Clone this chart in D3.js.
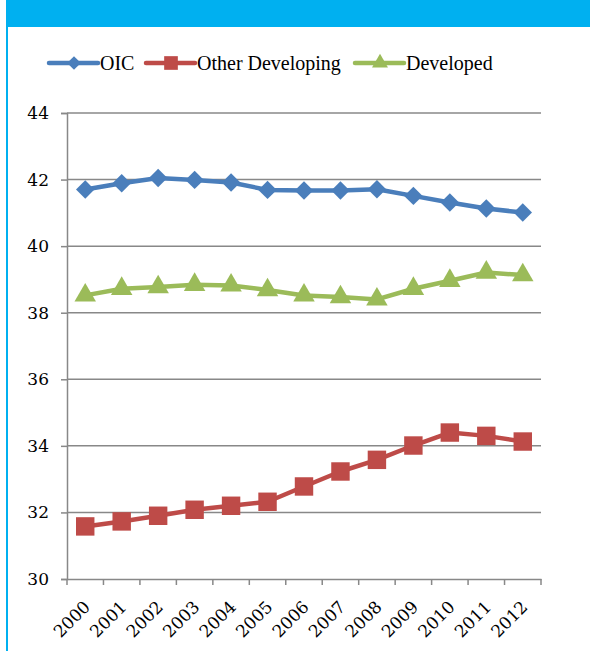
<!DOCTYPE html>
<html>
<head>
<meta charset="utf-8">
<script src="https://cdn.jsdelivr.net/npm/d3@7"></script>
<style>
  body { margin: 0; background: #fff; }
  svg { display: block; }
  svg text { font-family: "DejaVu Serif", serif; fill: #000; }
  svg text.legend { font-family: "Liberation Serif", serif; }
</style>
</head>
<body>
<svg id="chart" width="590" height="651"></svg>
<script>
const years = ["2000","2001","2002","2003","2004","2005","2006","2007","2008","2009","2010","2011","2012"];
const oic = [41.7, 41.89, 42.05, 41.99, 41.91, 41.69, 41.67, 41.67, 41.71, 41.51, 41.31, 41.13, 41.01];
const otherDeveloping = [31.58, 31.73, 31.9, 32.08, 32.2, 32.32, 32.78, 33.23, 33.58, 34.01, 34.4, 34.3, 34.13];
const developed = [38.52, 38.72, 38.77, 38.84, 38.82, 38.68, 38.52, 38.47, 38.4, 38.72, 38.96, 39.21, 39.13];
const yTicks = [30, 32, 34, 36, 38, 40, 42, 44];

// diamond = square turned 45 degrees
const series = [
  { name: "OIC", values: oic, color: "#4a7ebb", symbol: d3.symbolSquare, size: 170, rot: 45 },
  { name: "Other Developing", values: otherDeveloping, color: "#be4b48", symbol: d3.symbolSquare, size: 340, rot: 0 },
  { name: "Developed", values: developed, color: "#9bbb59", symbol: d3.symbolTriangle, size: 200, rot: 0 }
];

const svg = d3.select("#chart");

// banner and left frame line
svg.append("rect").attr("x", 7).attr("y", 0).attr("width", 583).attr("height", 27).attr("fill", "#00b0f0");
svg.append("rect").attr("x", 6).attr("y", 0).attr("width", 2).attr("height", 651).attr("fill", "#00b0f0");

const plotLeft = 67, plotRight = 541, plotTop = 113, plotBottom = 579;

const x = d3.scaleBand().domain(years).range([plotLeft, plotRight]);
const y = d3.scaleLinear().domain([30, 44]).range([plotBottom, plotTop]);

// gridlines
svg.append("g")
   .selectAll("line")
   .data(yTicks.filter(d => d > 30))
   .join("line")
   .attr("x1", plotLeft).attr("x2", plotRight)
   .attr("y1", d => y(d)).attr("y2", d => y(d))
   .attr("stroke", "#888").attr("stroke-width", 1.5);

// y axis
const yAxis = svg.append("g")
   .attr("transform", `translate(${plotLeft},0)`)
   .call(d3.axisLeft(y).tickValues(yTicks).tickSize(6).tickPadding(12));
yAxis.attr("font-family", null);
yAxis.select(".domain").attr("stroke", "#888").attr("stroke-width", 1.5);
yAxis.selectAll(".tick line").attr("stroke", "#888").attr("stroke-width", 1.5);
yAxis.selectAll("text").style("font-size", "17px");

// x axis
const xAxis = svg.append("g")
   .attr("transform", `translate(0,${plotBottom})`)
   .call(d3.axisBottom(x).tickSize(0).tickFormat(""));
xAxis.select(".domain").attr("stroke", "#888").attr("stroke-width", 1.5);
xAxis.selectAll(".tick").remove();

const edges = years.map(d => x(d)).concat([plotRight]);
svg.append("g")
   .selectAll("line")
   .data(edges)
   .join("line")
   .attr("x1", d => d).attr("x2", d => d)
   .attr("y1", plotBottom).attr("y2", plotBottom + 6)
   .attr("stroke", "#888").attr("stroke-width", 1.5);

svg.append("g")
   .selectAll("text")
   .data(years)
   .join("text")
   .attr("transform", d => `translate(${x(d) + x.bandwidth() / 2 + 6},${plotBottom + 29}) rotate(-45)`)
   .attr("text-anchor", "end")
   .style("font-size", "17px")
   .text(d => d);

// lines and markers
const line = d3.line()
   .x((d, i) => x(years[i]) + x.bandwidth() / 2)
   .y(d => y(d));

series.forEach(s => {
  const g = svg.append("g");
  g.append("path")
   .attr("d", line(s.values))
   .attr("fill", "none")
   .attr("stroke", s.color)
   .attr("stroke-width", 4.5)
   .attr("stroke-linejoin", "round");
  g.selectAll("path.marker")
   .data(s.values)
   .join("path")
   .attr("class", "marker")
   .attr("d", d3.symbol().type(s.symbol).size(s.size))
   .attr("transform", (d, i) => `translate(${x(years[i]) + x.bandwidth() / 2},${y(d)}) rotate(${s.rot})`)
   .attr("fill", s.color);
});

// legend
const legendPos = [49, 146, 355];
const legend = svg.append("g").attr("transform", "translate(0,63)");
series.forEach((s, i) => {
  const lx = legendPos[i];
  legend.append("line")
     .attr("x1", lx).attr("x2", lx + 49)
     .attr("stroke", s.color).attr("stroke-width", 4.5).attr("stroke-linecap", "round");
  legend.append("path")
     .attr("d", d3.symbol().type(s.symbol).size(s.size * 0.55))
     .attr("transform", `translate(${lx + 25},0) rotate(${s.rot})`)
     .attr("fill", s.color);
  legend.append("text")
     .attr("class", "legend")
     .attr("x", lx + 51)
     .attr("dy", "0.35em")
     .style("font-size", "20px")
     .text(s.name);
});
</script>
</body>
</html>
